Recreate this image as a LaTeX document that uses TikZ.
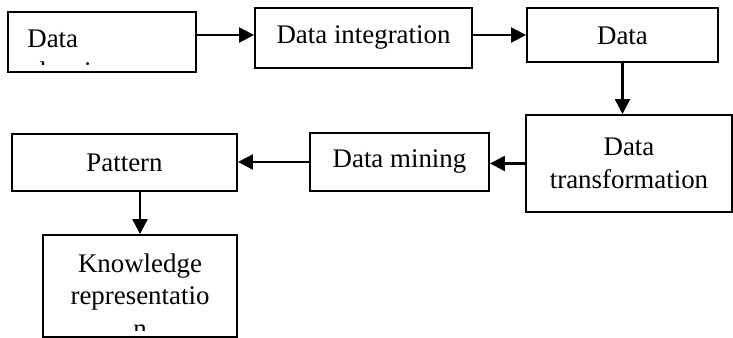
\documentclass[tikz,border=0pt]{standalone}
\usepackage{fontspec}
\setmainfont{Liberation Serif}
\usetikzlibrary{arrows.meta}
\begin{document}
\begin{tikzpicture}
    \tikzset{>={Triangle[length=8.5pt,width=8.5pt]}}
    \tikzset{box/.style={draw, line width=1.1pt, inner sep=0pt, align=center},
             txt/.style={inner sep=0pt},
             flow/.style={->, line width=1.3pt}}
    \fontsize{15.3}{18.6}\selectfont
    \useasboundingbox (0,0) rectangle (14.66,6.76);
    % top row
    \node[box, minimum width=3.76cm, minimum height=1.2cm] (clean) at (2.04,5.92) {};
    \node[box, minimum width=4.34cm, minimum height=1.2cm] (integ) at (7.27,6.00) {Data integration};
    \node[box, minimum width=3.82cm, minimum height=1.08cm] (select) at (12.45,6.06) {};
    % middle row
    \node[box, minimum width=4.12cm, minimum height=1.94cm] (trans) at (12.58,3.49) {Data\\transformation};
    \node[box, minimum width=3.58cm, minimum height=1.16cm] (mining) at (7.99,3.52) {Data mining};
    \node[box, minimum width=4.5cm, minimum height=1.14cm] (pattern) at (2.49,3.51) {Pattern};
    % bottom
    \node[box, minimum width=3.88cm, minimum height=2.04cm] (know) at (2.80,1.04) {};
    % texts cut off by their frames
    \begin{scope}
        \clip (clean.north west) rectangle ([yshift=0.16cm]clean.south east);
        \node[txt, anchor=base west] (cleanA) at (0.54,5.80) {Data};
        \node[txt, anchor=base west] (cleanB) at (0.54,5.14) {cleaning};
    \end{scope}
    \node[txt, anchor=base] (selA) at (12.45,5.86) {Data};
    \begin{scope}
        \clip (know.north west) rectangle ([yshift=0.14cm]know.south east);
        \node[txt, anchor=base] (knowA) at (2.80,1.30) {Knowledge};
        \node[txt, anchor=base] (knowB) at (2.80,0.66) {representatio};
        \node[txt, anchor=base] (knowC) at (2.80,0.00) {n};
    \end{scope}
    % arrows
    \draw[flow] (clean.east |- select.west) -- (integ.west |- select.west);
    \draw[flow] (integ.east |- select.west) -- (select.west);
    \draw[flow] (select.south) -- (select.south |- trans.north);
    \draw[flow] (trans.west) -- (trans.west -| mining.east);
    \draw[flow] (mining.west) -- (mining.west -| pattern.east);
    \draw[flow] (know.north |- pattern.south) -- (know.north);
\end{tikzpicture}
\end{document}
